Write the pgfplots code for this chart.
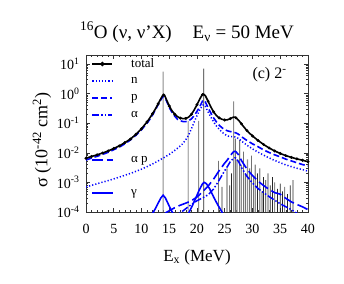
\documentclass[border=0pt]{standalone}
\usepackage{fontspec}
\setmainfont{Liberation Serif}
\usepackage{pgfplots}
\pgfplotsset{compat=1.18}
\usepackage{pgfplotstable}
\definecolor{myblue}{RGB}{0,0,255}

\pgfplotstableread{
E s
0 0.0065
1 0.0075
2 0.0085
3 0.0098
4 0.0115
5 0.014
6 0.017
7 0.022
8 0.029
9 0.042
10 0.065
11 0.11
11.5 0.15
12 0.21
12.5 0.30
13 0.45
13.5 0.68
13.8 0.85
14 0.9
14.2 0.84
14.5 0.62
15 0.38
15.5 0.26
16 0.2
16.5 0.165
17 0.148
17.5 0.142
18 0.145
18.5 0.16
19 0.2
19.5 0.28
20 0.42
20.5 0.65
20.9 0.88
21.2 0.95
21.5 0.85
22 0.55
22.5 0.35
23 0.24
23.5 0.18
24 0.15
24.5 0.135
25 0.128
25.5 0.13
26 0.142
26.5 0.158
26.8 0.16
27 0.152
27.5 0.125
28 0.095
28.5 0.072
29 0.056
29.5 0.045
30 0.037
31 0.026
32 0.019
33 0.0145
34 0.0115
35 0.0095
36 0.008
37 0.007
38 0.0062
39 0.0056
40 0.005
}\tottable

\pgfplotstableread{
E s
0 0.0065
1 0.0075
2 0.0085
3 0.0098
4 0.0115
5 0.014
6 0.017
7 0.022
8 0.029
9 0.042
10 0.065
11 0.11
12 0.21
13 0.45
14 0.9
15 0.38
16 0.2
17 0.148
18 0.145
19 0.2
20 0.42
21 0.92
22 0.55
23 0.24
24 0.15
25 0.128
26 0.142
27 0.152
28 0.095
29 0.056
30 0.037
31 0.026
32 0.019
33 0.0145
34 0.0115
35 0.0095
36 0.008
37 0.007
38 0.0062
39 0.0056
40 0.005
}\totmarks

\pgfplotstableread{
E s
0 0.0057
1 0.0066
2 0.0076
3 0.0088
4 0.0104
5 0.0127
6 0.0155
7 0.02
8 0.027
9 0.039
10 0.06
11 0.1
11.5 0.135
12 0.19
12.5 0.28
13 0.42
13.5 0.62
13.8 0.76
14 0.8
14.2 0.75
14.5 0.57
15 0.34
15.5 0.23
16 0.17
16.5 0.135
17 0.12
17.5 0.113
18 0.113
18.5 0.12
19 0.14
19.5 0.18
20 0.25
20.5 0.36
21 0.56
21.2 0.6
21.5 0.52
22 0.33
22.5 0.22
23 0.15
23.5 0.11
24 0.085
24.5 0.07
25 0.06
25.5 0.055
26 0.052
26.5 0.05
27 0.047
27.5 0.042
28 0.035
29 0.026
30 0.02
31 0.016
32 0.0125
33 0.0102
34 0.0085
35 0.0073
36 0.0061
37 0.0053
38 0.0046
39 0.004
40 0.0036
}\ptable

\pgfplotstableread{
E s
0 0.0007
2 0.0009
4 0.00115
6 0.0015
8 0.002
10 0.0028
11 0.0034
12 0.0042
13 0.0053
14 0.0068
15 0.0088
16 0.012
17 0.017
17.5 0.021
18 0.028
18.5 0.04
19 0.065
19.5 0.11
20 0.18
20.5 0.28
21 0.4
21.2 0.42
21.5 0.37
22 0.24
22.5 0.16
23 0.11
23.5 0.08
24 0.062
24.5 0.05
25 0.042
25.5 0.037
26 0.035
26.5 0.035
27 0.034
27.5 0.03
28 0.025
29 0.018
30 0.0135
31 0.0105
32 0.0083
33 0.0067
34 0.0055
35 0.0046
36 0.0039
37 0.0034
38 0.003
39 0.0027
40 0.0024
}\ntable

\pgfplotstableread{
E s
15 0.00005
16 0.00007
17.2 0.0001
18 0.00013
19 0.00018
20 0.00024
21 0.0003
22 0.00038
23 0.0006
24 0.0012
25 0.0025
25.5 0.0035
26 0.005
26.5 0.0063
26.8 0.0067
27 0.0066
27.5 0.005
28 0.0032
29 0.0016
30 0.00095
31 0.00062
32 0.00045
33 0.00033
34 0.00025
35 0.00019
36 0.00015
37 0.00012
38 0.00009
39 0.00007
40 0.00006
}\atable

\pgfplotstableread{
E s
12 0.00005
13 0.00007
14.6 0.0001
16 0.00014
17 0.00017
18 0.0002
19 0.00024
20 0.00032
21 0.00048
22 0.00075
23 0.0013
24 0.0025
25 0.0045
25.5 0.0058
26 0.008
26.5 0.0105
26.8 0.0112
27 0.011
27.5 0.0085
28 0.0055
29 0.0028
30 0.0017
31 0.0011
32 0.00078
33 0.00058
34 0.00045
35 0.0004
36 0.00029
37 0.00022
38 0.00018
39 0.00015
40 0.00012
}\aptable

\pgfplotstableread{
E s
10 0.00002
11 0.00004
12 0.00009
12.5 0.00013
13 0.0002
13.5 0.0003
13.9 0.00037
14.3 0.0003
14.8 0.00019
15.3 0.00012
16 0.00007
17 0.000045
18 0.00006
18.6 0.0001
19.2 0.00017
19.8 0.0003
20.4 0.00055
21 0.0009
21.3 0.001
21.7 0.0009
22.3 0.0006
23 0.00032
23.7 0.00018
24.5 0.0001
25.3 0.00005
26 0.00003
}\gtable

\pgfplotstableread{
E s
13.9 5.5
20.3 0.12
26.6 0.54
27.2 0.006
28.0 0.004
29.1 0.006
30.5 0.004
31.3 0.003
32.8 0.002
34.0 0.001
35.8 0.0007
37.3 0.0012
}\greylines

\pgfplotstableread{
E s
18.4 0.12
21.2 7.0
23.9 0.0053
24.5 0.0007
25.4 0.003
25.9 0.0008
26.2 0.002
26.9 0.03
27.7 0.027
28.4 0.011
28.7 0.002
29.5 0.003
29.8 0.008
30.2 0.0015
30.9 0.002
31.7 0.0005
32.0 0.0015
32.4 0.0012
33.2 0.0008
33.6 0.0015
34.5 0.0006
35.0 0.0009
35.4 0.0005
36.3 0.0004
36.8 0.0008
}\blacklines

\begin{document}
\begin{tikzpicture}
\path[use as bounding box] (-86bp,-72bp) rectangle (258bp,212bp);
\begin{axis}[
  at={(0,0)}, anchor=south west,
  scale only axis, width=222bp, height=157bp,
  xmin=0, xmax=40, ymode=log, ymin=1e-4, ymax=20,
  log origin=infty, clip mode=individual,
  xtick={0,5,...,40}, minor x tick num=4,
  ytick={1e-4,1e-3,1e-2,1e-1,1,10},
  yticklabels={10\textsuperscript{-4},10\textsuperscript{-3},10\textsuperscript{-2},10\textsuperscript{-1},10\textsuperscript{0},10\textsuperscript{1}},
  minor ytick={2e-4,3e-4,4e-4,5e-4,6e-4,7e-4,8e-4,9e-4,2e-3,3e-3,4e-3,5e-3,6e-3,7e-3,8e-3,9e-3,2e-2,3e-2,4e-2,5e-2,6e-2,7e-2,8e-2,9e-2,0.2,0.3,0.4,0.5,0.6,0.7,0.8,0.9,2,3,4,5,6,7,8,9},
  tick label style={font=\fontsize{14bp}{16bp}\selectfont},
  /pgf/number format/assume math mode=true,
  xticklabel style={yshift=-9bp},
  yticklabel style={xshift=-3bp},
  axis line style={black!80, line width=0.6bp},
  major tick length=4bp, minor tick length=2.2bp,
  every tick/.style={black!80, line width=0.5bp},
]
\addplot[ybar, bar width=1.1bp, bar shift=0pt, fill=black!45, draw=none] table[x=E,y=s]{\greylines};
\addplot[ybar, bar width=0.7bp, bar shift=0pt, fill=black!85, draw=none] table[x=E,y=s]{\blacklines};
\addplot[myblue, line width=1.5bp, dash pattern=on 1.2bp off 2bp] table[x=E,y=s]{\ntable};
\addplot[myblue, line width=1.6bp, dash pattern=on 6bp off 3bp] table[x=E,y=s]{\ptable};
\addplot[myblue, line width=1.5bp, dash pattern=on 7bp off 2bp on 1.5bp off 2bp on 1.5bp off 2bp] table[x=E,y=s]{\atable};
\addplot[myblue, line width=1.6bp, dash pattern=on 11bp off 4bp] table[x=E,y=s]{\aptable};
\addplot[myblue, line width=1.6bp] table[x=E,y=s]{\gtable};
\addplot[black, line width=1.6bp] table[x=E,y=s]{\tottable};
\addplot[black, only marks, mark=*, mark size=1.3bp] table[x=E,y=s]{\totmarks};
\end{axis}
\node[font=\fontsize{19bp}{22bp}\selectfont] at (101bp,180bp) {\textsuperscript{16}O (ν, ν'X)\hspace{1.1em}E\textsubscript{ν} = 50 MeV};
\node[anchor=west, font=\fontsize{16bp}{18bp}\selectfont] at (163bp,137bp) {(c) 2\textsuperscript{-}};
\node[rotate=90, font=\fontsize{18bp}{20bp}\selectfont] at (-44bp,72bp) {σ (10\textsuperscript{-42} cm\textsuperscript{2})};
\node[font=\fontsize{17bp}{19bp}\selectfont] at (111bp,-45bp) {E\textsubscript{x} (MeV)};
\begin{axis}[
  at={(0,0)}, anchor=south west, hide axis,
  scale only axis, width=222bp, height=157bp,
  xmin=0, xmax=40, ymode=log, ymin=1e-4, ymax=20,
  legend cell align=left,
  legend style={draw=none, fill=none, inner sep=0pt, outer sep=0pt, row sep=0pt,
    at={(rel axis cs:0.025,0.997)}, anchor=north west,
    font=\fontsize{13bp}{15bp}\selectfont,
    nodes={minimum height=17bp, inner ysep=0pt, inner xsep=2bp}},
  legend image code/.code={\draw[mark repeat=2,mark phase=2,#1] plot coordinates {(0bp,0bp) (10bp,0bp) (20bp,0bp)}; \path (0bp,0bp) (36bp,0bp);},
]
\addlegendimage{black, line width=1.6bp, mark=*, mark size=1.3bp}
\addlegendentry{total}
\addlegendimage{myblue, line width=1.5bp, dash pattern=on 1.2bp off 2bp}
\addlegendentry{n}
\addlegendimage{myblue, line width=1.6bp, dash pattern=on 6bp off 3bp}
\addlegendentry{p}
\addlegendimage{myblue, line width=1.5bp, dash pattern=on 7bp off 2bp on 1.5bp off 2bp on 1.5bp off 2bp}
\addlegendentry{α}
\end{axis}
\begin{axis}[
  at={(0,0)}, anchor=south west, hide axis,
  scale only axis, width=222bp, height=157bp,
  xmin=0, xmax=40, ymode=log, ymin=1e-4, ymax=20,
  legend cell align=left,
  legend style={draw=none, fill=none, inner sep=0pt, outer sep=0pt, row sep=16bp,
    at={(rel axis cs:0.025,0.385)}, anchor=north west,
    font=\fontsize{13bp}{15bp}\selectfont,
    nodes={minimum height=17bp, inner ysep=0pt, inner xsep=2bp}},
  legend image code/.code={\draw[#1] (0bp,0bp) -- (21bp,0bp); \path (0bp,0bp) (36bp,0bp);},
]
\addlegendimage{myblue, line width=1.6bp, dash pattern=on 11bp off 4bp}
\addlegendentry{α p}
\addlegendimage{myblue, line width=1.6bp}
\addlegendentry{γ}
\end{axis}
\end{tikzpicture}
\end{document}
